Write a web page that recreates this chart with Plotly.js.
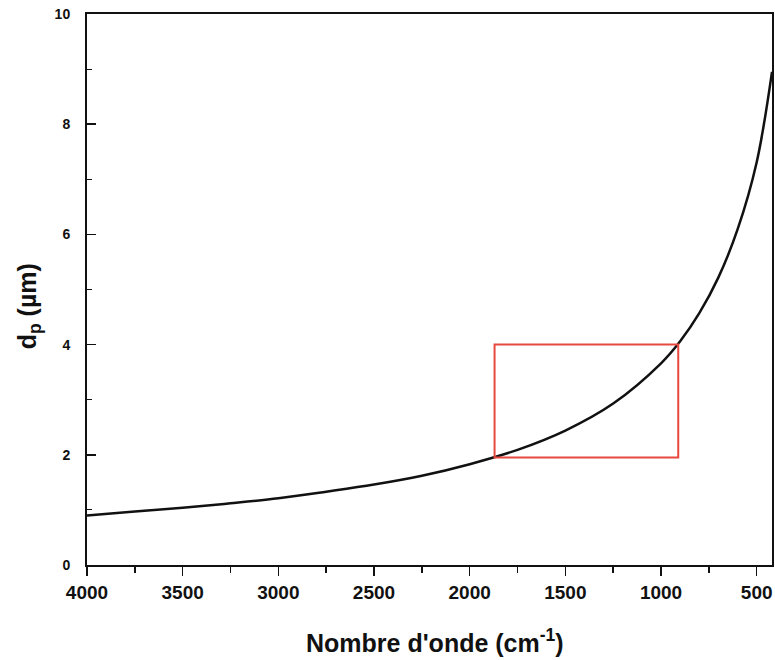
<!DOCTYPE html>
<html>
<head>
<meta charset="utf-8">
<script src="https://cdn.plot.ly/plotly-3.0.1.min.js"></script>
<style>html,body{margin:0;padding:0;background:#fff}#chart{width:775px;height:660px}</style>
</head>
<body>
<div id="chart"></div>
<script>
// Wavenumber (cm-1) and penetration depth d_p (µm)
const wavenumber = [4000, 3750, 3500, 3250, 3000, 2750, 2500, 2250, 2000, 1750, 1500, 1250, 1000, 900, 800, 700, 600, 500, 420];
const depth      = [0.90, 0.97, 1.04, 1.12, 1.21, 1.33, 1.46, 1.62, 1.83, 2.09, 2.44, 2.93, 3.66, 4.06, 4.57, 5.22, 6.09, 7.31, 8.95];
// Highlighted region (red rectangle): wavenumber range and d_p range
const boxWavenumber = [1870, 910];
const boxDepth = [1.95, 4.0];
const xTickVals = [4000, 3500, 3000, 2500, 2000, 1500, 1000, 500];
const yTickVals = [0, 2, 4, 6, 8, 10];
const xTitle = "<b>Nombre d'onde (cm<sup>-1</sup>)</b>";
const yTitle = '<b>d<sub>p</sub> (µm)</b>';

const fam = 'Liberation Sans, Arial, sans-serif';

Plotly.newPlot('chart', [{
  x: wavenumber, y: depth, type: 'scatter', mode: 'lines',
  line: {color: '#111', width: 2.5, shape: 'spline'}, hoverinfo: 'skip'
}], {
  width: 775, height: 660,
  margin: {l: 87, r: 3, t: 14, b: 95},
  paper_bgcolor: '#fff', plot_bgcolor: '#fff',
  showlegend: false,
  font: {family: fam, color: '#111'},
  xaxis: {
    range: [4000, 420], autorange: false,
    tickvals: xTickVals, ticks: 'outside', ticklen: 9, tickwidth: 1.5, tickcolor: '#111',
    minor: {dtick: 250, tick0: 0, ticks: 'outside', ticklen: 6, tickwidth: 1.5, tickcolor: '#111'},
    showgrid: false, zeroline: false,
    showline: true, linecolor: '#111', linewidth: 2, mirror: true,
    tickfont: {family: fam, size: 19, color: '#111', weight: 'bold'}
  },
  yaxis: {
    range: [0, 10], autorange: false,
    tickvals: yTickVals, ticks: 'inside', ticklen: 9, tickwidth: 1.5, tickcolor: '#111',
    minor: {dtick: 1, tick0: 0, ticks: 'inside', ticklen: 5, tickwidth: 1.2, tickcolor: '#111'},
    showgrid: false, zeroline: false,
    showline: true, linecolor: '#111', linewidth: 2, mirror: true,
    ticklabelstandoff: 12,
    tickfont: {family: fam, size: 14, color: '#111', weight: 'bold'}
  },
  annotations: [
    {text: xTitle, xref: 'paper', yref: 'paper', x: 0.508, y: -0.138, xanchor: 'center', yanchor: 'middle',
     showarrow: false, font: {family: fam, size: 25, color: '#111'}},
    {text: yTitle, xref: 'paper', yref: 'paper', x: -0.085, y: 0.469, xanchor: 'center', yanchor: 'middle',
     textangle: -90, showarrow: false, font: {family: fam, size: 25, color: '#111'}}
  ],
  shapes: [{
    type: 'rect', xref: 'x', yref: 'y',
    x0: boxWavenumber[0], x1: boxWavenumber[1], y0: boxDepth[0], y1: boxDepth[1],
    line: {color: '#e8483e', width: 2}, fillcolor: 'rgba(0,0,0,0)'
  }]
}, {displayModeBar: false, staticPlot: true});
</script>
</body>
</html>
